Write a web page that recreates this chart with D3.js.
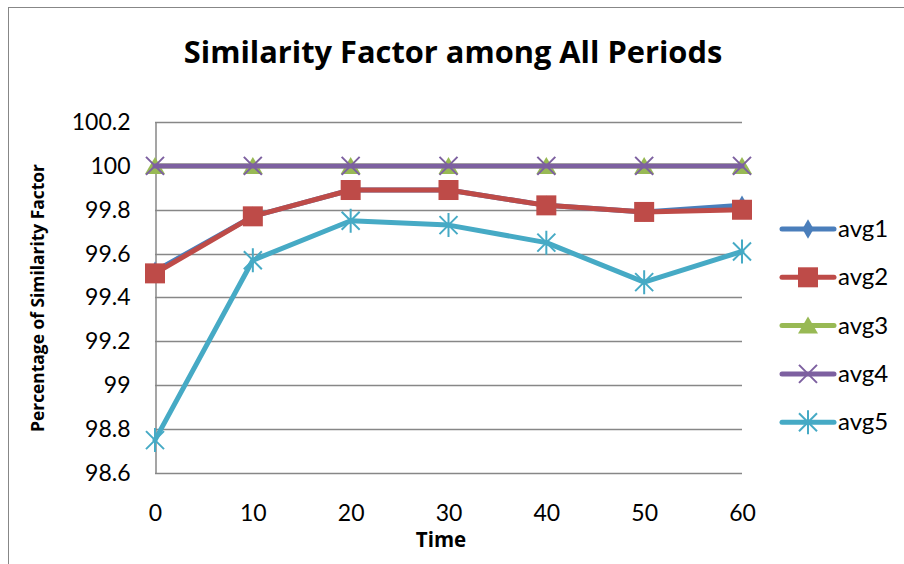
<!DOCTYPE html>
<html>
<head>
<meta charset="utf-8">
<script src="https://cdn.jsdelivr.net/npm/d3@7"></script>
<style>
  html, body { margin: 0; padding: 0; background: #fff; }
  svg { display: block; }
  text { font-family: Lato, "Open Sans", sans-serif; fill: #000; }
  .bold { font-family: "Open Sans", Lato, sans-serif; font-weight: bold; }
</style>
</head>
<body>
<svg id="chart" width="904" height="564"></svg>
<script>
// Time points (x categories)
const times = [0, 10, 20, 30, 40, 50, 60];

// Similarity factor (%) per period average
const avg1 = [99.52, 99.77, 99.89, 99.89, 99.82, 99.79, 99.82];
const avg2 = [99.51, 99.77, 99.89, 99.89, 99.82, 99.79, 99.80];
const avg3 = [100, 100, 100, 100, 100, 100, 100];
const avg4 = [100, 100, 100, 100, 100, 100, 100];
const avg5 = [98.75, 99.57, 99.75, 99.73, 99.65, 99.47, 99.61];

const seriesNames = ["avg1", "avg2", "avg3", "avg4", "avg5"];
const yTicks = [98.6, 98.8, 99, 99.2, 99.4, 99.6, 99.8, 100, 100.2];

const chartTitle = "Similarity Factor among All Periods";
const xTitle = "Time";
const yTitle = "Percentage of Similarity Factor";

const series = [
  { name: seriesNames[0], values: avg1, color: "#4a7ebb", marker: "diamond" },
  { name: seriesNames[1], values: avg2, color: "#be4b48", marker: "square" },
  { name: seriesNames[2], values: avg3, color: "#98b954", marker: "triangle" },
  { name: seriesNames[3], values: avg4, color: "#7d60a0", marker: "cross" },
  { name: seriesNames[4], values: avg5, color: "#46aac5", marker: "star" }
];

const svg = d3.select("#chart");

// outer chart border (runs off the right and bottom edges)
svg.append("rect")
  .attr("x", 8.5).attr("y", 7.5)
  .attr("width", 1000).attr("height", 1000)
  .attr("fill", "none").attr("stroke", "#878787").attr("stroke-width", 1);

const plot = { left: 155, right: 742, top: 122, bottom: 473 };

const x = d3.scalePoint().domain(times).range([plot.left, plot.right]);
const y = d3.scaleLinear().domain([98.6, 100.2]).range([plot.bottom, plot.top]);

// horizontal gridlines
svg.append("g")
  .selectAll("line")
  .data(yTicks)
  .join("line")
  .attr("x1", plot.left).attr("x2", plot.right)
  .attr("y1", d => Math.round(y(d)) + 0.5).attr("y2", d => Math.round(y(d)) + 0.5)
  .attr("stroke", "#878787").attr("stroke-width", 1.5);

// y axis
const yAxis = svg.append("g")
  .attr("transform", `translate(${plot.left + 0.5},0)`)
  .call(d3.axisLeft(y).tickValues(yTicks).tickSize(0).tickPadding(25)
    .tickFormat(d => d3.format("")(+d.toFixed(1))));
yAxis.select(".domain").attr("stroke", "#878787").attr("stroke-width", 1.5);
yAxis.selectAll("text").attr("font-size", 23).attr("font-family", "Lato, sans-serif").attr("fill", "#000");

// x axis (no visible line; labels only)
const xAxis = svg.append("g")
  .attr("transform", `translate(0,${plot.bottom})`)
  .call(d3.axisBottom(x).tickSize(0).tickPadding(32));
xAxis.select(".domain").remove();
xAxis.selectAll("text").attr("font-size", 23).attr("font-family", "Lato, sans-serif").attr("fill", "#000");

// marker shapes
function drawMarker(g, type, color, cx, cy) {
  if (type === "diamond") {
    g.append("path").attr("d", d3.symbol(d3.symbolDiamond, 110)())
      .attr("transform", `translate(${cx},${cy})`).attr("fill", color);
  } else if (type === "square") {
    g.append("rect").attr("x", cx - 10).attr("y", cy - 10)
      .attr("width", 20).attr("height", 20).attr("fill", color);
  } else if (type === "triangle") {
    g.append("path").attr("d", `M${cx},${cy - 9} L${cx + 10},${cy + 8} L${cx - 10},${cy + 8} Z`)
      .attr("fill", color);
  } else if (type === "cross") {
    const s = 9;
    g.append("path").attr("d", `M${cx - s},${cy - s} L${cx + s},${cy + s} M${cx - s},${cy + s} L${cx + s},${cy - s}`)
      .attr("stroke", color).attr("stroke-width", 2).attr("fill", "none");
  } else if (type === "star") {
    const s = 9;
    g.append("path").attr("d",
      `M${cx - s},${cy - s} L${cx + s},${cy + s} M${cx - s},${cy + s} L${cx + s},${cy - s} M${cx},${cy - s - 3} L${cx},${cy + s + 3}`)
      .attr("stroke", color).attr("stroke-width", 2).attr("fill", "none");
  }
}

const line = d3.line().x((d, i) => x(times[i])).y(d => y(d));

// each series: thick line with its markers, drawn in order avg1..avg5
series.forEach(s => {
  const g = svg.append("g");
  g.append("path").datum(s.values)
    .attr("d", line)
    .attr("fill", "none").attr("stroke", s.color)
    .attr("stroke-width", 5).attr("stroke-linejoin", "round").attr("stroke-linecap", "round");
  s.values.forEach((v, i) => drawMarker(g, s.marker, s.color, x(times[i]), y(v)));
});

// legend
const legend = svg.append("g");
series.forEach((s, i) => {
  const ly = 229 + i * 48.3;
  const g = legend.append("g");
  g.append("line").attr("x1", 782).attr("x2", 834).attr("y1", ly).attr("y2", ly)
    .attr("stroke", s.color).attr("stroke-width", 5).attr("stroke-linecap", "round");
  drawMarker(g, s.marker, s.color, 808, ly);
  g.append("text").attr("x", 838).attr("y", ly + 8)
    .attr("font-size", 24).text(s.name);
});

// titles
svg.append("text").attr("class", "bold").attr("x", 453).attr("y", 63).attr("text-anchor", "middle")
  .attr("font-size", 30.8).text(chartTitle);

svg.append("text").attr("class", "bold").attr("x", 441).attr("y", 547).attr("text-anchor", "middle")
  .attr("font-size", 20.5).text(xTitle);

svg.append("text").attr("class", "bold")
  .attr("transform", "translate(44,298) rotate(-90)")
  .attr("text-anchor", "middle")
  .attr("font-size", 17.4).text(yTitle);
</script>
</body>
</html>
